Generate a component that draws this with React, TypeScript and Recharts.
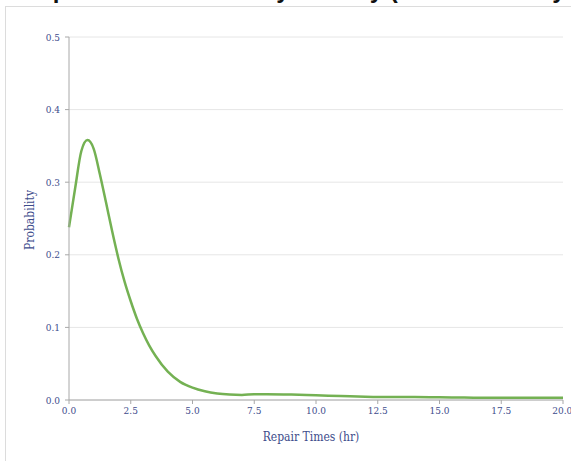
import { LineChart, Line, XAxis, YAxis, CartesianGrid } from "recharts";

// repair time (hours) and estimated probability density
const repairHours = [
    0, 0.25, 0.5, 0.75, 1.0, 1.25, 1.5, 1.75, 2.0, 2.25, 2.5, 2.75, 3.0, 3.25, 3.5,
    4.0, 4.5, 5.0, 5.5, 6.0, 6.5, 7.0, 7.5, 8.0, 9.0, 10.0, 11.0, 12.0, 13.0, 14.0,
    15.0, 16.0, 17.0, 18.0, 19.0, 20.0,
];
const probability = [
    0.238, 0.292, 0.343, 0.358, 0.346, 0.311, 0.272, 0.232, 0.195, 0.163, 0.136, 0.112, 0.092, 0.075, 0.061,
    0.039, 0.025, 0.017, 0.012, 0.009, 0.0075, 0.007, 0.008, 0.008, 0.0075, 0.0065, 0.0055, 0.0045, 0.004, 0.004,
    0.0037, 0.0033, 0.003, 0.003, 0.003, 0.003,
];
const xTicks = [0, 2.5, 5, 7.5, 10, 12.5, 15, 17.5, 20];
const yTicks = [0, 0.1, 0.2, 0.3, 0.4, 0.5];

const chartTitle = "Repair Time Probability Density (Kernel Density Estimate Using Gaussian)";

const data = repairHours.map((h, i) => ({ hours: h, density: probability[i] }));

const serif = "'DejaVu Serif Condensed', 'DejaVu Serif', serif";
const inkBlue = "#3e4d8c";

function App(): JSX.Element {
    return (
        <div style={{ position: "absolute", left: 0, top: 0, width: 571, height: 461, overflow: "hidden", background: "#fff" }}>
            <div
                style={{
                    position: "absolute",
                    left: 22,
                    top: -22,
                    whiteSpace: "nowrap",
                    fontFamily: "'Liberation Sans', sans-serif",
                    fontWeight: "bold",
                    fontSize: 24,
                    lineHeight: "24px",
                    color: "#111",
                }}>
                {chartTitle}
            </div>
            <div style={{ position: "absolute", left: 5, top: 6, width: 600, height: 500, border: "1px solid #dcdcdc", background: "#fff" }}></div>

            <div style={{ position: "absolute", left: 0, top: 0 }}>
                <LineChart
                    width={571}
                    height={461}
                    data={data}
                    margin={{ top: 37, right: 8, bottom: 31, left: 10 }}>

                    <CartesianGrid vertical={false} stroke="#e6e6e6" />
                    <XAxis
                        dataKey="hours"
                        type="number"
                        domain={[0, 20]}
                        ticks={xTicks}
                        tickFormatter={(v: number) => v.toFixed(1)}
                        height={30}
                        stroke="#a8a8a8"
                        tickSize={4}
                        tickMargin={3}
                        tick={{ fontFamily: serif, fontSize: 10, fill: inkBlue }} />
                    <YAxis
                        type="number"
                        domain={[0, 0.5]}
                        ticks={yTicks}
                        tickFormatter={(v: number) => v.toFixed(1)}
                        width={59}
                        stroke="#a8a8a8"
                        tickSize={4}
                        tickMargin={5}
                        tick={{ fontFamily: serif, fontSize: 10, fill: inkBlue }} />
                    <Line
                        type="monotone"
                        dataKey="density"
                        stroke="#74b153"
                        strokeWidth={2.5}
                        dot={false}
                        isAnimationActive={false} />

                </LineChart>
            </div>

            <div
                style={{
                    position: "absolute",
                    left: 311,
                    top: 437,
                    transform: "translate(-50%, -50%)",
                    whiteSpace: "nowrap",
                    fontFamily: serif,
                    fontSize: 12,
                    color: inkBlue,
                }}>
                Repair Times (hr)
            </div>
            <div
                style={{
                    position: "absolute",
                    left: 30,
                    top: 220,
                    transform: "translate(-50%, -50%) rotate(-90deg)",
                    whiteSpace: "nowrap",
                    fontFamily: serif,
                    fontSize: 12,
                    color: inkBlue,
                }}>
                Probability
            </div>
        </div>
    );
}

export default App;
